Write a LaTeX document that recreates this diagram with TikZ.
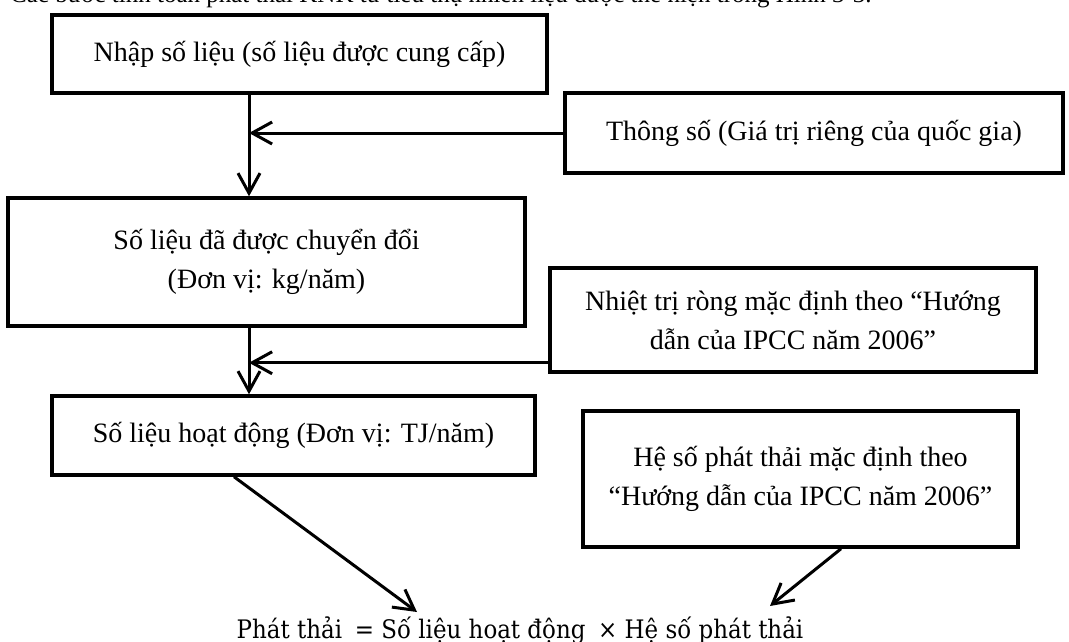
\documentclass[tikz,border=0pt]{standalone}
\usepackage{fontspec}
\setmainfont{Liberation Serif}
\newfontfamily\eqfont{DejaVu Serif Condensed}
\usetikzlibrary{arrows.meta}

\tikzset{
  stepbox/.style={draw, line width=3.5pt, inner sep=0pt, align=center,
    font=\fontsize{28}{39}\selectfont},
  conn/.style={line width=3pt,
    -{Straight Barb[length=20pt,width=22pt,line width=3pt]}}
}

\begin{document}
\begin{tikzpicture}[x=1pt,y=-1pt]
  \useasboundingbox (0,0) rectangle (1069,642);

  % caption line above the chart (its upper part lies outside the page)
  \node[anchor=base west, inner sep=0pt, font=\fontsize{25}{30}\selectfont] (cap) at (10,3)
    {Các bước tính toán phát thải KNK từ tiêu thụ nhiên liệu được thể hiện trong Hình 3-3.};

  % boxes
  \node[stepbox, minimum width=495pt, minimum height=78pt] (input) at (299.5,54)
    {Nhập số liệu (số liệu được cung cấp)};
  \node[stepbox, minimum width=498pt, minimum height=80pt] (param) at (814,133)
    {Thông số (Giá trị riêng của quốc gia)};
  \node[stepbox, minimum width=517pt, minimum height=128pt] (conv) at (266.5,262)
    {Số liệu đã được chuyển đổi\\(Đơn vị: kg/năm)};
  \node[stepbox, minimum width=486pt, minimum height=104pt] (ncv) at (793,320)
    {Nhiệt trị ròng mặc định theo “Hướng\\dẫn của IPCC năm 2006”};
  \node[stepbox, minimum width=483pt, minimum height=79pt] (act) at (293.5,435.5)
    {Số liệu hoạt động (Đơn vị: TJ/năm)};
  \node[stepbox, minimum width=435pt, minimum height=136pt] (ef) at (800.5,479)
    {Hệ số phát thải mặc định theo\\“Hướng dẫn của IPCC năm 2006”};

  % result formula
  \node[anchor=base, inner sep=0pt, font=\eqfont\fontsize{25.5}{30}\selectfont] (eq) at (520,638)
    {Phát thải\enspace= Số liệu hoạt động\enspace× Hệ số phát thải};

  % main vertical flow
  \coordinate (col) at (249,0);
  \draw[conn] (input.south -| col) -- (conv.north -| col);
  \draw[conn] (conv.south -| col) -- (act.north -| col);

  % side inputs joining the flow
  \draw[conn] (param.west) -- (param.west -| col);
  \coordinate (ncvout) at ([yshift=11pt]ncv.south west);
  \draw[conn] (ncvout) -- (ncvout -| col);

  % both factors feed the formula
  \coordinate (eqL) at (417,612);
  \coordinate (eqR) at (770,606);
  \draw[conn] ([xshift=-59.5pt]act.south) -- (eqL);
  \draw[conn] ([xshift=40.5pt]ef.south) -- (eqR);
\end{tikzpicture}
\end{document}
